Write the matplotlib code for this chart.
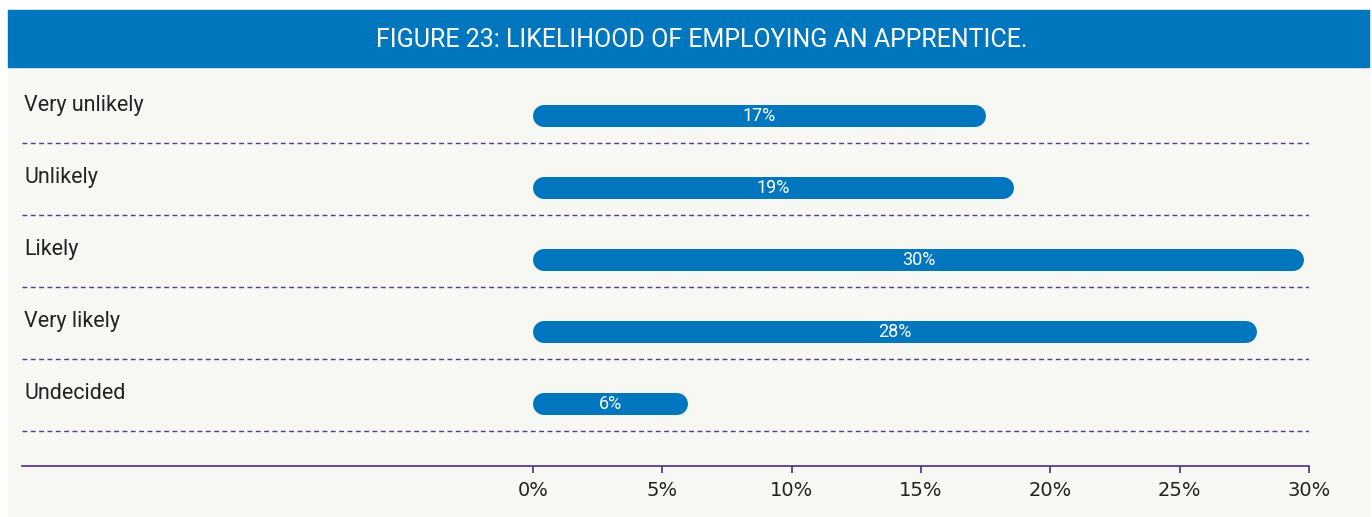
import matplotlib.pyplot as plt
from matplotlib.patches import Rectangle

categories = ['Very unlikely', 'Unlikely', 'Likely', 'Very likely', 'Undecided']
values = [17.5, 18.6, 29.8, 28.0, 6.0]
labels = ['17%', '19%', '30%', '28%', '6%']
ticks = [0, 5, 10, 15, 20, 25, 30]

W, H = 1372, 517
blue = '#0076be'
purple = '#583a8e'
panel = '#f7f7f3'

fig = plt.figure(figsize=(W / 100, H / 100), dpi=100)
fig.patch.set_facecolor('white')

# panel background and header band (pixel coords -> figure fraction)
fig.patches.append(Rectangle((8 / W, 0), (1369 - 8) / W, (517 - 10) / H,
                             transform=fig.transFigure, color=panel, zorder=-10))
fig.patches.append(Rectangle((8 / W, 1 - 67 / H), (1369 - 8) / W, 57 / H,
                             transform=fig.transFigure, color=blue, zorder=-9))
fig.text(702 / W, 1 - 40 / H, 'FIGURE 23: LIKELIHOOD OF EMPLOYING AN APPRENTICE.',
         color='white', fontsize=18, family='Roboto', ha='center', va='center')

# axes spanning from the left dashed edge to the 30% tick
left, right, top, bottom = 22, 1309, 80, 466
ax = fig.add_axes([left / W, 1 - bottom / H, (right - left) / W, (bottom - top) / H])
ax.set_facecolor('none')
px_per_pct = (1309 - 533) / 30
ax.set_xlim(-(533 - left) / px_per_pct, 30)
ax.set_ylim((bottom - 116) / 72, (top - 116) / 72)

bar_px = 22
r = bar_px / 2 / px_per_pct
for i, (v, lab) in enumerate(zip(values, labels)):
    ax.hlines(i, r, v - r, color=blue, linewidth=bar_px * 0.72, capstyle='round')
    ax.text(v / 2, i, lab, color='white', fontsize=13, family='Roboto',
            ha='center', va='center')
    ax.axhline(i + 0.375, color=purple, linewidth=1.0, linestyle=(0, (3.5, 2.5)))
    ax.text(-(533 - 24) / px_per_pct, i - 0.15, categories[i], fontsize=15.5,
            family='Roboto', color='#222222', ha='left', va='center')

for s in ['top', 'left', 'right']:
    ax.spines[s].set_visible(False)
ax.spines['bottom'].set_color(purple)
ax.spines['bottom'].set_linewidth(1.3)
ax.set_yticks([])
ax.set_xticks(ticks)
ax.set_xticklabels([f'{t}%' for t in ticks], fontsize=14, color='#222222')
ax.tick_params(axis='x', direction='out', length=5, width=1.3, color=purple, pad=6)

fig.savefig('out.png', dpi=100, facecolor=fig.get_facecolor())
